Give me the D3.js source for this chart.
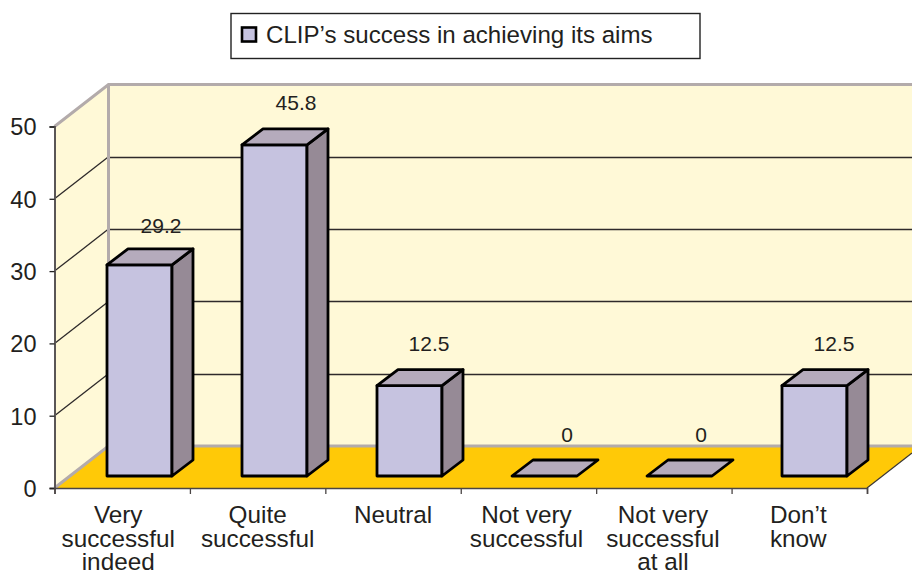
<!DOCTYPE html>
<html><head><meta charset="utf-8">
<script src="https://cdn.jsdelivr.net/npm/d3@7/dist/d3.min.js"></script>
<style>html,body{margin:0;padding:0;background:#fff;overflow:hidden}svg{display:block}text{font-family:"Liberation Sans",Arial,sans-serif;fill:#231f20}</style>
</head><body><svg id="c" width="912" height="571"></svg>
<script>
const categories=[["Very","successful","indeed"],["Quite","successful"],["Neutral"],["Not very","successful"],["Not very","successful","at all"],["Don\u2019t","know"]];
const values=[29.2,45.8,12.5,0,0,12.5];
const valueLabels=["29.2","45.8","12.5","0","0","12.5"];
const yTicks=[0,10,20,30,40,50];
const legendLabel="CLIP\u2019s success in achieving its aims";
const categoryLabelNudge=[-4,0,0,-2,-1,-1];
const valueLabelNudgeX=[0,0,-2,1,0,-2];
const valueLabelNudgeY=[3,0,0,1,1,0];

const svg=d3.select("#c");
const ids=d3.range(categories.length);
const x=d3.scaleBand().domain(ids).range([54.5,867]);
const xBar=d3.scaleBand().domain(ids).range([54,864]);
const y=d3.scaleLinear().domain([0,50]).range([488,126.5]);
const wall={dx:54,dy:-42}, bar={dx:21,dy:-16,inset:53,w:65,lift:12};
const poly=pts=>pts.map(p=>p.join(",")).join(" ");
const W=912, x0=x.range()[0], x1=x.range()[1];
const yTop=y(50), base=y(0);

// walls and floor
svg.append("polygon").attr("points",poly([[x0+wall.dx,yTop+wall.dy],[W,yTop+wall.dy],[W,base+wall.dy],[x0+wall.dx,base+wall.dy]])).attr("fill","#fff9d7");
svg.append("polygon").attr("points",poly([[x0,yTop],[x0+wall.dx,yTop+wall.dy],[x0+wall.dx,base+wall.dy],[x0,base]])).attr("fill","#fff9d7");
svg.append("polygon").attr("points",poly([[x0,base],[x0+wall.dx,base+wall.dy],[W,base+wall.dy],[W,base+(W-x1)*(wall.dy/wall.dx)],[x1,base]])).attr("fill","#ffc907");

// grid lines
const grid=yTicks.filter(t=>t>0&&t<50);
const backY=d=>Math.round(y(d)+wall.dy)+0.5;
svg.selectAll(".gb").data(grid).join("line").attr("x1",x0+wall.dx).attr("x2",W)
  .attr("y1",backY).attr("y2",backY).attr("stroke","#2e2a2a").attr("stroke-width",1.3);
svg.selectAll(".gs").data(grid).join("line").attr("x1",x0).attr("x2",x0+wall.dx)
  .attr("y1",d=>y(d)).attr("y2",d=>y(d)+wall.dy).attr("stroke","#2e2a2a").attr("stroke-width",1.3);

// grey wall edges
const edge="#b3abab";
svg.append("path").attr("fill","none").attr("stroke",edge).attr("stroke-width",3)
  .attr("d",`M${x0},${yTop}L${x0+wall.dx},${yTop+wall.dy}L${W},${yTop+wall.dy}M${x0+wall.dx},${yTop+wall.dy}L${x0+wall.dx},${base+wall.dy}M${x0},${base}L${x0+wall.dx},${base+wall.dy}L${W},${base+wall.dy}`);
svg.append("line").attr("x1",x1).attr("y1",base).attr("x2",W).attr("y2",base+(W-x1)*(wall.dy/wall.dx)).attr("stroke","#3a3636").attr("stroke-width",1.2);

// axes
const yAxis=d3.axisLeft(y).tickValues(yTicks).tickSize(5).tickPadding(13);
const gy=svg.append("g").attr("transform",`translate(${x0},0)`).call(yAxis);
gy.selectAll("text").style("font-size","23.5px").attr("dy","0.36em");
const xAxis=d3.axisBottom(d3.scaleLinear().domain([0,ids.length]).range([x0,x1])).tickValues(d3.range(ids.length+1)).tickSize(6).tickFormat("");
const gx=svg.append("g").attr("transform",`translate(0,${base})`).call(xAxis);
gy.select("path").attr("stroke","#5a5656").attr("stroke-width",2);
gy.selectAll("line").attr("stroke","#222").attr("stroke-width",1.3);
gx.select("path").attr("stroke","#4a4545").attr("stroke-width",1.6);
gx.selectAll("line").attr("stroke","#4a4545").attr("stroke-width",1.3);

// bars
const bx=i=>xBar(i)+bar.inset, by=v=>y(v)-bar.lift, b0=y(0)-bar.lift;
const g=svg.selectAll(".bar").data(ids).join("g").attr("stroke","#000").attr("stroke-width",2.8).attr("stroke-linejoin","round");
g.filter(i=>values[i]>0).append("polygon").attr("fill","#c6c3e0")
  .attr("points",i=>poly([[bx(i),by(values[i])],[bx(i)+bar.w,by(values[i])],[bx(i)+bar.w,b0],[bx(i),b0]]));
g.filter(i=>values[i]>0).append("polygon").attr("fill","#968a96")
  .attr("points",i=>poly([[bx(i)+bar.w,by(values[i])],[bx(i)+bar.w+bar.dx,by(values[i])+bar.dy],[bx(i)+bar.w+bar.dx,b0+bar.dy],[bx(i)+bar.w,b0]]));
g.append("polygon").attr("fill","#b5abbc")
  .attr("points",i=>poly([[bx(i),by(values[i])],[bx(i)+bar.dx,by(values[i])+bar.dy],[bx(i)+bar.w+bar.dx,by(values[i])+bar.dy],[bx(i)+bar.w,by(values[i])]]));

// value labels
svg.selectAll(".vl").data(ids).join("text").attr("text-anchor","middle").style("font-size","21px")
  .attr("x",i=>bx(i)+54+valueLabelNudgeX[i]).attr("y",i=>by(values[i])-35+valueLabelNudgeY[i]).text(i=>valueLabels[i]);

// category labels
svg.selectAll(".cl").data(ids).join("text").attr("text-anchor","middle").style("font-size","24.3px")
  .attr("transform",i=>`translate(${x(i)+x.bandwidth()/2+categoryLabelNudge[i]},523)`)
  .selectAll("tspan").data(i=>categories[i]).join("tspan").attr("x",0).attr("y",(d,j)=>j*23.6).text(d=>d);

// legend
svg.append("rect").attr("x",231).attr("y",13.5).attr("width",469).attr("height",45).attr("fill","#fff").attr("stroke","#222").attr("stroke-width",1.4);
svg.append("rect").attr("x",242).attr("y",27.5).attr("width",14).attr("height",14).attr("fill","#c6c3e0").attr("stroke","#000").attr("stroke-width",2.6);
svg.append("text").attr("x",266).attr("y",43).style("font-size","24.1px").text(legendLabel);
</script></body></html>
